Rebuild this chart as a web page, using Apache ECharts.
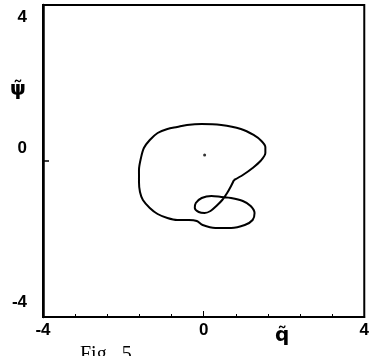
<!DOCTYPE html>
<html>
<head>
<meta charset="utf-8">
<script src="https://cdn.jsdelivr.net/npm/echarts@6/dist/echarts.min.js"></script>
<style>
html,body{margin:0;padding:0;background:#fff;}
#c{width:372px;height:356px;}
</style>
</head>
<body>
<div id="c"></div>
<script>
// Trajectory in the (q~, psi~) plane
var qValues = [0.756,0.976,1.220,1.415,1.537,1.537,1.439,1.244,0.927,0.439,-0.049,-0.415,-0.659,-0.902,-1.146,-1.341,-1.488,-1.561,-1.610,-1.610,-1.585,-1.512,-1.341,-1.146,-0.902,-0.659,-0.366,-0.171,-0.024,0.293,0.683,1.024,1.220,1.268,1.171,0.976,0.683,0.439,0.195,-0.049,-0.195,-0.220,-0.122,0.024,0.171,0.317,0.463,0.585,0.683,0.756];
var psiValues = [-0.487,-0.359,-0.179,0.0,0.205,0.359,0.513,0.667,0.821,0.923,0.949,0.923,0.872,0.821,0.718,0.538,0.333,0.077,-0.231,-0.538,-0.795,-1.0,-1.205,-1.359,-1.462,-1.513,-1.513,-1.538,-1.641,-1.718,-1.718,-1.641,-1.513,-1.333,-1.154,-1.026,-0.949,-0.923,-0.897,-0.949,-1.077,-1.205,-1.308,-1.333,-1.282,-1.154,-1.0,-0.821,-0.641,-0.487];
var centerPoint = [0.024, 0.154];
var xTickLabels = ['-4', '0', '4'];
var yTickLabels = ['-4', '0', '4'];
var xName = 'q\u0303';
var yName = '\u03C8\u0303';
var caption = 'Fig.  5.';

var curve = qValues.map(function (q, i) { return [q, psiValues[i]]; });

var chart = echarts.init(document.getElementById('c'), null, {renderer: 'canvas'});
var labelFont = {color: '#000', fontFamily: 'Liberation Sans', fontWeight: 'bold', fontSize: 17};
chart.setOption({
  animation: false,
  backgroundColor: '#fff',
  grid: {left: 43, right: 1, top: 5, bottom: 39, show: true, borderColor: '#000', borderWidth: 2},
  xAxis: {
    type: 'value', min: -4, max: 4, interval: 4,
    axisLine: {show: true, onZero: false, lineStyle: {color: '#000', width: 2}},
    axisTick: {show: true, inside: true, length: 6, lineStyle: {color: '#000', width: 1}},
    minorTick: {show: true, splitNumber: 5, length: 3, lineStyle: {color: '#000', width: 1}},
    splitLine: {show: false},
    axisLabel: Object.assign({margin: 5, formatter: function (v) {
      var s = String(Math.round(v)); return xTickLabels.indexOf(s) >= 0 ? s : '';
    }}, labelFont)
  },
  yAxis: {
    type: 'value', min: -4, max: 4, interval: 4,
    axisLine: {show: true, onZero: false, lineStyle: {color: '#000', width: 2.5}},
    axisTick: {show: true, inside: true, length: 6, lineStyle: {color: '#000', width: 1.5}},
    minorTick: {show: false},
    splitLine: {show: false},
    axisLabel: Object.assign({margin: 16, formatter: function (v) {
      var s = String(Math.round(v));
      if (yTickLabels.indexOf(s) < 0) return '';
      if (s === '4') return '{t|' + s + '}';
      if (s === '0') return '{m|' + s + '}';
      return '{b|' + s + '}';
    }, rich: {
      t: Object.assign({padding: [24, 0, 0, 0]}, labelFont),
      m: Object.assign({padding: [0, 0, 26, 0]}, labelFont),
      b: Object.assign({padding: [0, 0, 30, 0]}, labelFont)
    }}, labelFont)
  },
  series: [
    {type: 'line', data: curve, smooth: 0.3, showSymbol: false, symbol: 'none',
     lineStyle: {color: '#000', width: 2}},
    {type: 'scatter', data: [centerPoint], symbolSize: 3, itemStyle: {color: '#000'}}
  ],
  graphic: [
    {type: 'text', left: 10, top: 80, style: {text: yName, fill: '#000', font: 'bold 20px "DejaVu Sans"'}},
    {type: 'text', left: 275, top: 326, style: {text: xName, fill: '#000', font: 'bold 20px "DejaVu Sans"'}},
    {type: 'text', left: 80, top: 345, style: {text: caption, fill: '#000', font: '20px "Liberation Serif"'}}
  ]
});
</script>
</body>
</html>
